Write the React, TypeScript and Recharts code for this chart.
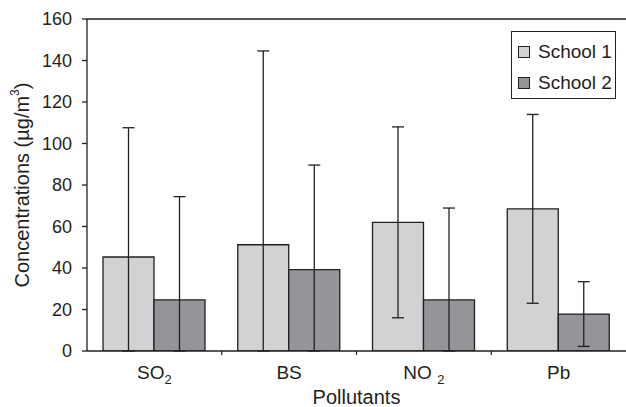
import React from 'react';
import {
  BarChart,
  Bar,
  XAxis,
  YAxis,
  ErrorBar,
  ReferenceLine,
} from 'recharts';

const pollutants = ['SO2', 'BS', 'NO2', 'Pb'];
const tickMain = ['SO', 'BS', 'NO ', 'Pb'];
const tickSub = ['2', '', '2', ''];
const school1 = [45.3, 51.2, 62, 68.5];
const school1Err = [62.3, 93.4, 46, 45.5];
const school2 = [24.6, 39.2, 24.6, 17.8];
const school2Err = [49.8, 50.4, 44.3, 15.6];
const yTicks = [0, 20, 40, 60, 80, 100, 120, 140, 160];

const INK = '#231f20';
const FONT = '"Liberation Sans", Arial, sans-serif';
const LIGHT = '#d1d2d4';
const DARK = '#939598';

// the plot is cut at zero, so the lower whisker stops at the axis
const chartData = pollutants.map((name, i) => ({
  name,
  s1: school1[i],
  s1Err: [Math.min(school1Err[i], school1[i]), school1Err[i]],
  s2: school2[i],
  s2Err: [Math.min(school2Err[i], school2[i]), school2Err[i]],
}));

const PollutantTick = (props: any) => {
  const { x, y, payload } = props;
  const i = payload.index;
  const off = payload.offset || 0;
  return (
    <g>
      {i < pollutants.length - 1 && (
        <line x1={x + off} x2={x + off} y1={y} y2={y + 4} stroke={INK} strokeWidth={1.2} />
      )}
      <text x={x} y={y + 28} textAnchor="middle" fontFamily={FONT} fontSize={19} fill={INK}>
        {tickMain[i]}
        {tickSub[i] && (
          <tspan dy={5} fontSize={13}>
            {tickSub[i]}
          </tspan>
        )}
      </text>
    </g>
  );
};

const YLabel = (props: any) => {
  const vb = props.viewBox || { x: 0, y: 19, width: 87, height: 332 };
  const cx = vb.x + 22;
  const cy = vb.y + vb.height / 2;
  return (
    <text
      x={cx}
      y={cy}
      transform={`rotate(-90, ${cx}, ${cy})`}
      textAnchor="middle"
      dominantBaseline="central"
      fontFamily={FONT}
      fontSize={20}
      fill={INK}
    >
      Concentrations (µg/m
      <tspan dy={-7} fontSize={12}>3</tspan>
      <tspan dy={7}>)</tspan>
    </text>
  );
};

const LegendBox = () => (
  <div
    style={{
      position: 'absolute',
      left: 511,
      top: 31,
      border: `1px solid ${INK}`,
      width: 105,
      height: 68,
      boxSizing: 'border-box',
      padding: '4px 0 0 6px',
      fontFamily: FONT,
      fontSize: 19,
      color: INK,
      background: '#fff',
    }}
  >
    {[
      { label: 'School 1', fill: LIGHT },
      { label: 'School 2', fill: DARK },
    ].map((item) => (
      <div key={item.label} style={{ display: 'flex', alignItems: 'center', height: 31 }}>
        <span
          style={{
            display: 'inline-block',
            width: 10,
            height: 10,
            background: item.fill,
            border: `1px solid ${INK}`,
            marginRight: 8,
          }}
        />
        {item.label}
      </div>
    ))}
  </div>
);

export default function App() {
  return (
    <div style={{ position: 'absolute', left: 0, top: 0, width: 626, height: 407, background: '#fff' }}>
      <BarChart
        width={626}
        height={407}
        data={chartData}
        margin={{ top: 19, right: 0, left: 0, bottom: 0 }}
        barCategoryGap={16}
        barGap={0}
      >
        <XAxis
          dataKey="name"
          height={56}
          tickLine={false}
          tickSize={0}
          tickMargin={0}
          axisLine={{ stroke: INK, strokeWidth: 1.3 }}
          tick={<PollutantTick />}
          interval={0}
          label={{
            value: 'Pollutants',
            position: 'insideBottom',
            offset: 3,
            style: { fontFamily: FONT, fontSize: 20, fill: INK },
          }}
        />
        <YAxis
          width={87}
          domain={[0, 160]}
          ticks={yTicks}
          allowDataOverflow
          tickSize={5}
          tickMargin={10}
          tickLine={{ stroke: INK, strokeWidth: 1.3 }}
          axisLine={{ stroke: INK, strokeWidth: 1.3 }}
          tick={{ fontFamily: FONT, fontSize: 18, fill: INK }}
          label={<YLabel />}
        />
        <ReferenceLine y={160} stroke={INK} strokeWidth={1.3} />
        <Bar dataKey="s1" name="School 1" fill={LIGHT} stroke={INK} strokeWidth={1.3} isAnimationActive={false}>
          <ErrorBar dataKey="s1Err" direction="y" width={6} stroke={INK} strokeWidth={1.3} />
        </Bar>
        <Bar dataKey="s2" name="School 2" fill={DARK} stroke={INK} strokeWidth={1.3} isAnimationActive={false}>
          <ErrorBar dataKey="s2Err" direction="y" width={6} stroke={INK} strokeWidth={1.3} />
        </Bar>
      </BarChart>
      <LegendBox />
    </div>
  );
}
